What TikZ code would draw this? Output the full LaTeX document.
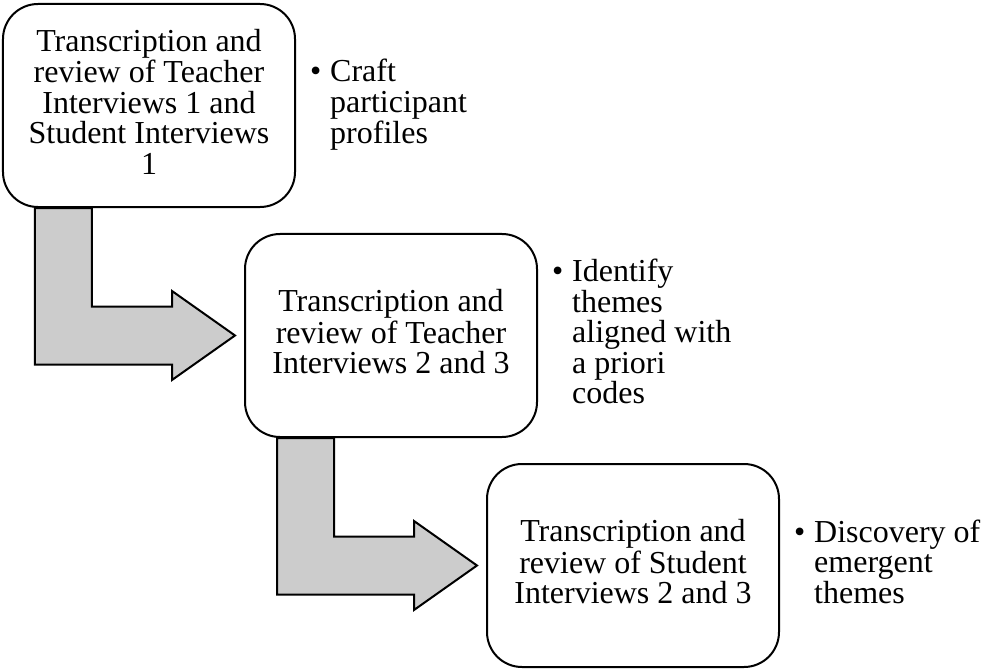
\documentclass[tikz,border=0pt]{standalone}
\usepackage{fontspec}
\setmainfont{Liberation Serif}
\usetikzlibrary{calc}
\definecolor{arrowgray}{RGB}{204,204,204}
\tikzset{
  stagebox/.style={draw=black, line width=2bp, fill=white, rounded corners=35bp,
    minimum width=292bp, minimum height=203bp, inner sep=0pt, align=center,
    font=\fontsize{32bp}{30.5bp}\selectfont},
  bullettext/.style={anchor=west, inner sep=0pt, align=left,
    font=\fontsize{32bp}{30.5bp}\selectfont},
  bentarrow/.style={draw=black, line width=2bp, fill=arrowgray, line join=miter}
}
\newcommand{\st}{\rule[-8bp]{0pt}{30bp}}
\newcommand{\bul}{\st\makebox[20bp][l]{•}}
\newcommand{\ind}{\st\hspace*{20bp}}
\begin{document}
\begin{tikzpicture}[x=1bp,y=-1bp]
\useasboundingbox (0,0) rectangle (984,669);
% boxes (positions)
\coordinate (c1) at (149,105.5);
\coordinate (c2) at (391,335.5);
\coordinate (c3) at (633,565.5);
% invisible frames, used to draw the arrows behind the boxes
\path (c1) node[stagebox, draw=none, fill=none] (b1) {\phantom{X}}
      (c2) node[stagebox, draw=none, fill=none] (b2) {\phantom{X}}
      (c3) node[stagebox, draw=none, fill=none] (b3) {\phantom{X}};
\foreach \a/\b in {b1/b2, b2/b3}{
  \draw[bentarrow]
    ($(\a.south west)+(33,0)$) -- ($(\a.south west)+(90,0)$)
    |- ($(\b.west)+(-72,-29)$) -- ($(\b.west)+(-72,-44.5)$)
    -- ($(\b.west)+(-9,0)$)
    -- ($(\b.west)+(-72,44.5)$) -- ($(\b.west)+(-72,29)$)
    -| cycle;
}
\node[stagebox] (s1) at (c1) {\st Transcription and\\\st review of Teacher\\\st Interviews 1 and\\\st Student Interviews\\\st 1};
\node[stagebox] (s2) at (c2) {\st Transcription and\\\st review of Teacher\\\st Interviews 2 and 3};
\node[stagebox] (s3) at (c3) {\st Transcription and\\\st review of Student\\\st Interviews 2 and 3};
\node[bullettext] (t1) at ($(s1.east)+(14,0)$) {\bul Craft\\\ind participant\\\ind profiles};
\node[bullettext] (t2) at ($(s2.east)+(14,0)$) {\bul Identify\\\ind themes\\\ind aligned with\\\ind a priori\\\ind codes};
\node[bullettext] (t3) at ($(s3.east)+(14,0)$) {\bul Discovery of\\\ind emergent\\\ind themes};
\end{tikzpicture}
\end{document}
